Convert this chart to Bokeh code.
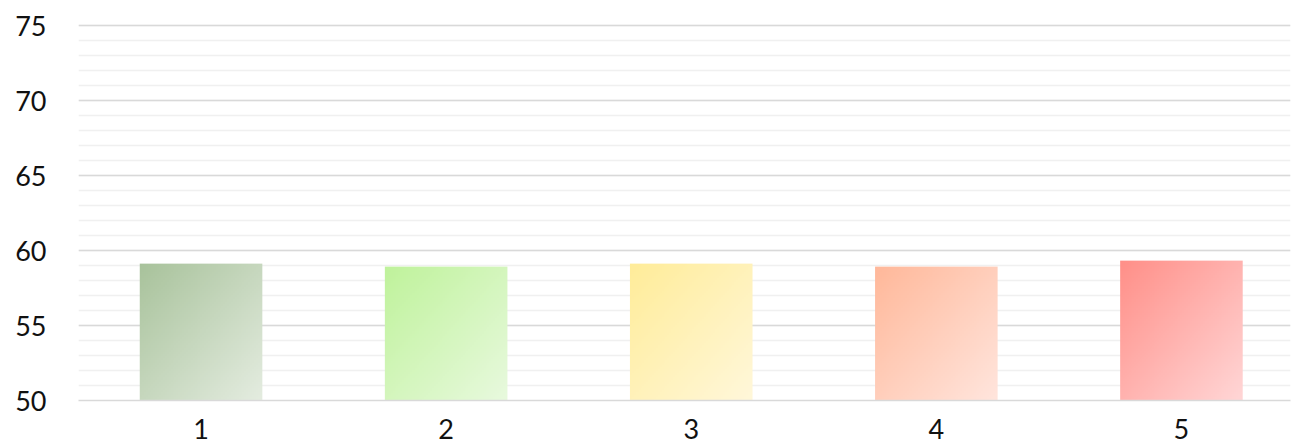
import numpy as np
from bokeh.plotting import figure
from bokeh.models import Range1d, SingleIntervalTicker, FixedTicker
from bokeh.embed import file_html
from bokeh.resources import INLINE

# ---- data ----
categories = ["1", "2", "3", "4", "5"]
values = [59.13, 58.93, 59.13, 58.93, 59.33]
color_start = ["#a8c29b", "#bff29b", "#ffec99", "#ffb89a", "#ff8f88"]
color_end = ["#e4ece0", "#e8f9de", "#fff7da", "#ffe5dd", "#ffd6d6"]
y_min, y_max = 50, 75

def hex_rgb(h):
    h = h.lstrip("#")
    return np.array([int(h[i:i + 2], 16) for i in (0, 2, 4)], dtype=float)

def gradient(c0, c1, n=64):
    a, b = hex_rgb(c0), hex_rgb(c1)
    u = np.linspace(0, 1, n)[None, :]          # left -> right
    v = np.linspace(0, 1, n)[:, None]          # bottom -> top (row 0 = bottom)
    t = (u + (1 - v)) / 2.0                    # 0 at top-left, 1 at bottom-right
    img = np.empty((n, n), dtype=np.uint32)
    view = img.view(dtype=np.uint8).reshape((n, n, 4))
    for k in range(3):
        view[:, :, k] = np.round(a[k] + (b[k] - a[k]) * t).astype(np.uint8)
    view[:, :, 3] = 255
    return img

xs = [i + 1 for i in range(len(categories))]
bar_w = 0.5

p = figure(width=1307, height=446, output_backend="svg", toolbar_location=None,
           x_range=Range1d(0.5, 5.445), y_range=Range1d(y_min, y_max + 0.15),
           min_border_left=78, min_border_right=17, min_border_top=23, min_border_bottom=46)
p.outline_line_color = None
p.background_fill_color = "white"
p.border_fill_color = "white"

images = [gradient(c0, c1) for c0, c1 in zip(color_start, color_end)]
p.image_rgba(image=images,
             x=[x - bar_w / 2 for x in xs],
             y=[y_min] * len(xs),
             dw=[bar_w] * len(xs),
             dh=[v - y_min for v in values])

# grid
p.xgrid.grid_line_color = None
p.ygrid.grid_line_color = "#d9d9d9"
p.ygrid.grid_line_width = 1.5
p.ygrid.minor_grid_line_color = "#f0f0f0"
p.ygrid.minor_grid_line_width = 1.5

# y axis
p.yaxis.ticker = SingleIntervalTicker(interval=5, num_minor_ticks=5)
p.yaxis.axis_line_color = None
p.yaxis.major_tick_line_color = None
p.yaxis.minor_tick_line_color = None
p.yaxis.major_label_standoff = 26
p.yaxis.major_label_text_font = "Lato"
p.yaxis.major_label_text_font_size = "27px"
p.yaxis.major_label_text_color = "#111111"

# x axis
p.xaxis.ticker = FixedTicker(ticks=xs)
p.xaxis.major_label_overrides = {x: c for x, c in zip(xs, categories)}
p.xaxis.axis_line_color = "#d9d9d9"
p.xaxis.axis_line_width = 1.5
p.xaxis.major_tick_line_color = None
p.xaxis.minor_tick_line_color = None
p.xaxis.major_label_standoff = 12
p.xaxis.major_label_text_font = "Lato"
p.xaxis.major_label_text_font_size = "27px"
p.xaxis.major_label_text_color = "#111111"

open("out.html", "w").write(file_html(p, INLINE))
